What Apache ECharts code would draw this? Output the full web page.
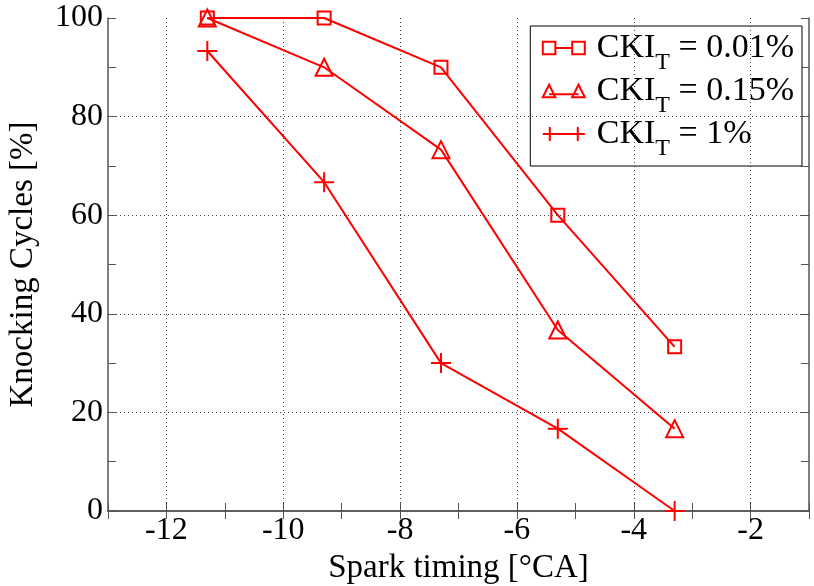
<!DOCTYPE html>
<html><head><meta charset="utf-8">
<script src="https://cdn.jsdelivr.net/npm/echarts@6/dist/echarts.min.js"></script>
<style>html,body{margin:0;padding:0;background:#fff}#c{width:814px;height:586px}</style>
</head><body><div id="c"></div>
<script>
const sparkTiming = [-11.3, -9.3, -7.3, -5.3, -3.3];
const ckiLow = [100, 100, 90, 60, 33.3];
const ckiMid = [100, 90, 73.3, 36.7, 16.7];
const ckiHigh = [93.3, 66.7, 30, 16.7, 0];
const seriesNames = ['0.01%', '0.15%', '1%'];
const xTicks = [-12, -10, -8, -6, -4, -2];
const yTicks = [0, 20, 40, 60, 80, 100];

const RED = '#ff0000';
const FONT = 'Liberation Serif';
const chart = echarts.init(document.getElementById('c'));
const pair = (ys) => sparkTiming.map((x, i) => [x, ys[i]]);
const plusPath = 'path://M0,10L20,10M10,0L10,20';
const legendIcons = [
  'path://M1,2h12v12h-12zM13,8h16M29,2h12v12h-12z',
  'path://M7,1L13,13L1,13zM7,10h28M35,1L41,13L29,13z',
  'path://M0,7h42M7,0v14M35,0v14'
];
const mk = (name, ys, symbol, size) => ({
  name: name, type: 'line', data: pair(ys), symbol: symbol, symbolSize: size,
  lineStyle: {color: RED, width: 2},
  itemStyle: {color: 'none', borderColor: RED, borderWidth: 2},
  emphasis: {disabled: true}, animation: false, z: 5
});
const axisCommon = {
  axisLine: {show: true, lineStyle: {color: '#555', width: 1.5}},
  axisTick: {show: true, inside: true, length: 8, lineStyle: {color: '#555'}},
  minorTick: {show: false},
};
chart.setOption({
  animation: false,
  backgroundColor: '#fff',
  grid: {left: 108, right: 5, top: 18, bottom: 75, show: false, outerBoundsMode: 'none', containLabel: false},
  xAxis: [
    Object.assign({type: 'value', min: -13, max: -1, interval: 1, position: 'bottom',
      name: 'Spark timing [°CA]', nameLocation: 'middle', nameGap: 32,
      nameTextStyle: {fontFamily: FONT, fontSize: 33, color: '#000'},
      axisLabel: {fontFamily: FONT, fontSize: 32, color: '#000', margin: 4,
        formatter: v => xTicks.includes(v) ? String(v) : ''},
      splitLine: {show: false}
    }, axisCommon),
    Object.assign({type: 'value', min: -13, max: -1, interval: 1, position: 'top',
      axisLabel: {show: false}, splitLine: {show: false}}, axisCommon)
  ],
  yAxis: [
    Object.assign({type: 'value', min: 0, max: 100, interval: 10, position: 'left',
      name: 'Knocking Cycles [%]', nameLocation: 'middle', nameGap: 68,
      nameTextStyle: {fontFamily: FONT, fontSize: 33, color: '#000'},
      axisLabel: {fontFamily: FONT, fontSize: 32, color: '#000', margin: 5,
        formatter: v => yTicks.includes(v) ? String(v) : ''},
      splitLine: {show: false}
    }, axisCommon),
    Object.assign({type: 'value', min: 0, max: 100, interval: 10, position: 'right',
      axisLabel: {show: false}, splitLine: {show: false}}, axisCommon)
  ],
  legend: {
    right: 12, top: 26, orient: 'vertical',
    backgroundColor: '#fff', borderColor: '#000', borderWidth: 1,
    padding: [5, 8, 5, 10], itemGap: -1, itemWidth: 42, itemHeight: 14,
    data: seriesNames.map((n, i) => ({name: 'CKI_T = ' + n, icon: legendIcons[i],
      itemStyle: {color: 'none', borderColor: RED, borderWidth: 2}})),
    formatter: name => '{b|CKI}{s|T}{a|' + name.slice(5) + '}',
    textStyle: {fontFamily: FONT, fontSize: 34, color: '#000',
      rich: {a: {fontFamily: FONT, fontSize: 34, color: '#000', lineHeight: 38},
             b: {fontFamily: FONT, fontSize: 34, color: '#000', lineHeight: 38, padding: [0, 0, 0, 7]},
             s: {fontFamily: FONT, fontSize: 24, color: '#000', padding: [30, 0, 0, 0]}}}
  },
  series: [
    mk('CKI_T = ' + seriesNames[0], ckiLow, 'rect', 13),
    mk('CKI_T = ' + seriesNames[1], ckiMid, 'triangle', 17),
    mk('CKI_T = ' + seriesNames[2], ckiHigh, plusPath, 20),
    {type: 'line', data: [], markLine: {silent: true, symbol: 'none', animation: false, label: {show: false},
      lineStyle: {color: '#444', type: [1, 3], width: 1},
      data: xTicks.map(v => ({xAxis: v})).concat(yTicks.filter(v => v > 0 && v < 100).map(v => ({yAxis: v})))}}
  ]
});
</script></body></html>
